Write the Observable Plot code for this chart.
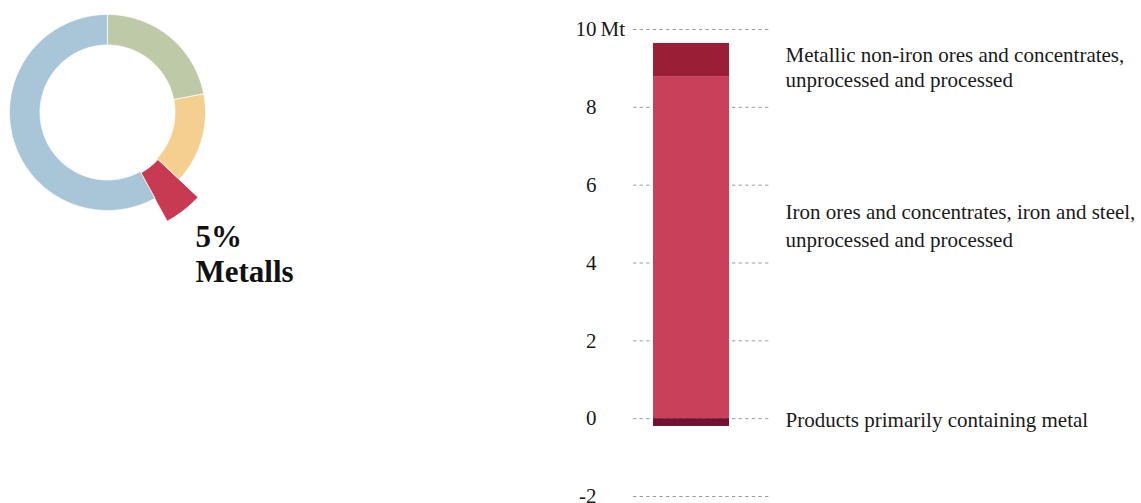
<!DOCTYPE html>
<html>
<head>
<meta charset="utf-8">
<script src="https://cdn.jsdelivr.net/npm/d3@7"></script>
<script src="https://cdn.jsdelivr.net/npm/@observablehq/plot@0.6"></script>
<style>
  html, body { margin: 0; padding: 0; background: #fff; }
  #wrap { position: relative; width: 1141px; height: 503px; overflow: hidden; font-family: "Liberation Serif", serif; }
  #wrap svg { position: absolute; top: 0; overflow: visible; }
</style>
</head>
<body>
<div id="wrap"></div>
<script>
// ---- Donut data (shares in %, clockwise from 12 o'clock) ----
const donutNames  = ["Biomass", "Fossil fuels", "Metalls", "Non-metallic minerals"];
const donutShares = [22, 15, 5, 58];
const donutColors = ["#bec9a8", "#f5cf8f", "#c83a51", "#a8c6d8"];
const highlight   = "Metalls";

// ---- Stacked bar data (Mt) ----
const barCategory = "Metalls";
const barNames  = ["Iron ores and concentrates, iron and steel,\nunprocessed and processed",
                   "Metallic non-iron ores and concentrates,\nunprocessed and processed",
                   "Products primarily containing metal"];
const barValues = [8.79, 0.85, -0.2];
const barColors = ["#c8405a", "#9a1e35", "#721132"];
const yTicks    = [-2, 0, 2, 4, 6, 8, 10];
const yUnit     = "Mt";

// ---------------- Donut ----------------
const R_OUT = 98, R_IN = 67.5, R_OUT_HI = 124, R_IN_HI = 69;
const donutPts = [];
let acc = 0;
donutNames.forEach((name, i) => {
  const a0 = acc / 100 * 360, a1 = (acc + donutShares[i]) / 100 * 360;
  acc += donutShares[i];
  const ro = name === highlight ? R_OUT_HI : R_OUT;
  const ri = name === highlight ? R_IN_HI : R_IN;
  const n = Math.max(2, Math.ceil(a1 - a0));
  for (let k = 0; k <= n; k++) {
    const a = (a0 + (a1 - a0) * k / n) * Math.PI / 180;
    donutPts.push({name, x: ro * Math.sin(a), y: ro * Math.cos(a)});
  }
  for (let k = n; k >= 0; k--) {
    const a = (a0 + (a1 - a0) * k / n) * Math.PI / 180;
    donutPts.push({name, x: ri * Math.sin(a), y: ri * Math.cos(a)});
  }
});
const hiIdx = donutNames.indexOf(highlight);
const donutLabel = [{text: `${donutShares[hiIdx]}%\n${highlight}`}];

const donut = Plot.plot({
  width: 320, height: 300,
  margin: 0,
  x: {domain: [-107, 213], range: [0, 320], axis: null},
  y: {domain: [-188, 112], range: [300, 0], axis: null},
  color: {domain: donutNames, range: donutColors},
  style: {fontFamily: "Liberation Serif, serif", background: "transparent"},
  marks: [
    Plot.line(donutPts, {x: "x", y: "y", z: "name", fill: "name", stroke: "#fff", strokeWidth: 0.7, curve: "linear-closed"}),
    Plot.text(donutLabel, {x: () => 88, y: () => -110, text: "text", textAnchor: "start", lineAnchor: "top",
      fontSize: 31, fontWeight: "bold", lineHeight: 1.13, fill: "#111"})
  ]
});
donut.style.left = "0px";
document.getElementById("wrap").appendChild(donut);

// ---------------- Stacked bar ----------------
const barData = barNames.map((name, i) => ({cat: barCategory, name, value: barValues[i]}));
// label anchor values: midpoints of each stacked segment
let pos = 0, neg = 0;
const labelData = barData.map(d => {
  let mid;
  if (d.value >= 0) { mid = pos + d.value / 2; pos += d.value; }
  else { mid = neg + d.value / 2; neg += d.value; }
  return {...d, mid};
});

const textColor = "#1a1a1a";
const bar = Plot.plot({
  width: 581, height: 503,
  marginTop: 29, marginBottom: 7, marginLeft: 73, marginRight: 371,
  x: {type: "band", domain: [barCategory], padding: 0, axis: null},
  y: {domain: [-2, 10], axis: null},
  color: {domain: barNames, range: barColors},
  style: {fontFamily: "Liberation Serif, serif", fontSize: "21px", background: "transparent"},
  marks: [
    Plot.ruleY(yTicks, {stroke: "#9a9a9a", strokeWidth: 1, strokeDasharray: "3.3,3.3"}),
    Plot.barY(barData, {x: "cat", y: "value", fill: "name", insetLeft: 20, insetRight: 41}),
    Plot.text(yTicks, {y: d => d, text: d => String(d), frameAnchor: "left", textAnchor: "end", dx: -37, fill: textColor, fontSize: 21}),
    Plot.text([yTicks[yTicks.length - 1]], {y: d => d, text: () => yUnit, frameAnchor: "left", textAnchor: "start", dx: -33, fill: textColor, fontSize: 21}),
    Plot.text(labelData.filter((d, i) => i === 1), {y: "mid", text: "name", frameAnchor: "right", textAnchor: "start", dx: 15, dy: 6, lineHeight: 1.19, fill: textColor, fontSize: 21}),
    Plot.text(labelData.filter((d, i) => i === 0), {y: "mid", text: "name", frameAnchor: "right", textAnchor: "start", dx: 15, dy: -24, lineHeight: 1.33, fill: textColor, fontSize: 21}),
    Plot.text(labelData.filter((d, i) => i === 2), {y: "mid", text: "name", frameAnchor: "right", textAnchor: "start", dx: 15, dy: -2, fill: textColor, fontSize: 21})
  ]
});
bar.style.left = "560px";
document.getElementById("wrap").appendChild(bar);
</script>
</body>
</html>
